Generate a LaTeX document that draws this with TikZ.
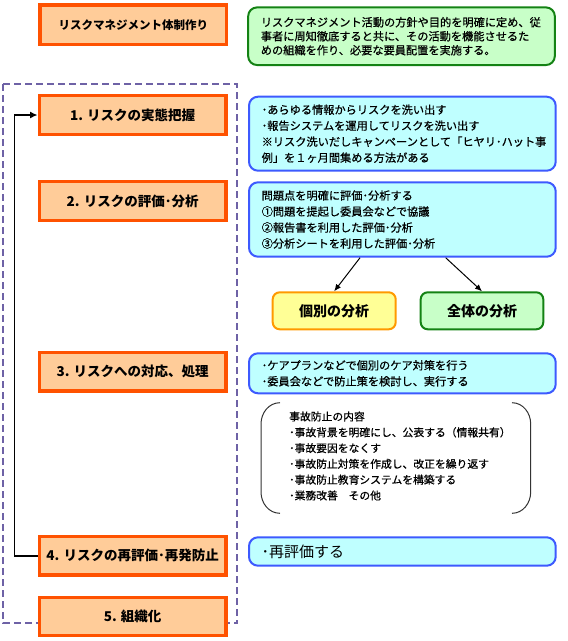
\documentclass[tikz,border=0pt]{standalone}
\usepackage{fontspec}
\setmainfont{Noto Sans CJK JP}
\newfontfamily\bodyfont{Noto Sans CJK JP}[FakeBold=0.6]
\usetikzlibrary{arrows.meta}
\definecolor{orangeB}{RGB}{255,82,0}
\definecolor{orangeF}{RGB}{255,204,153}
\definecolor{blueB}{RGB}{61,90,254}
\definecolor{blueF}{RGB}{191,255,255}
\definecolor{greenB}{RGB}{20,130,20}
\definecolor{greenF}{RGB}{200,255,200}
\definecolor{yellowB}{RGB}{255,153,0}
\definecolor{yellowF}{RGB}{255,255,150}
\definecolor{dashC}{RGB}{110,98,166}
\tikzset{
  obox/.style={draw=orangeB, fill=orangeF, line width=3.5pt, minimum width=186.7pt,
    minimum height=38.6pt, inner sep=0pt, font=\bfseries\fontsize{13.5pt}{16pt}\selectfont},
  rbox/.style={rounded corners=9pt, line width=2pt, inner xsep=12.7pt, inner ysep=0pt,
    text width=281.3pt, align=left, minimum width=306.7pt,
    font=\bodyfont\fontsize{11.2pt}{16pt}\selectfont},
  bbox/.style={rbox, draw=blueB, fill=blueF},
  gbox/.style={rbox, draw=greenB, fill=greenF},
  sbox/.style={rounded corners=7pt, line width=2pt, minimum width=123pt, minimum height=37pt,
    inner sep=0pt, font=\bfseries\fontsize{14pt}{16pt}\selectfont},
  dashbox/.style={draw=dashC, line width=2pt, dash pattern=on 7pt off 4pt},
  fb/.style={draw=black, line width=1.3pt, -{Latex[length=7.5pt,width=7pt]}},
  sarr/.style={draw=black, line width=1pt, -{Latex[length=7pt,width=6pt]}},
  brk/.style={draw=black!80, line width=1pt}
}
\begin{document}
\begin{tikzpicture}[x=1pt,y=-1pt]
\useasboundingbox (0,0) rectangle (568,641);
\draw[dashbox] (3.3,84) rectangle (237.3,623.3);

% left column
\node[obox, minimum height=39.3pt, font=\bfseries\fontsize{11.5pt}{14pt}\selectfont] (top) at (133.35,24.65) {リスクマネジメント体制作り};
\node[obox] (b1) at (132.65,115) {1. リスクの実態把握};
\node[obox, minimum height=39pt] (b2) at (132.65,201.2) {2. リスクの評価･分析};
\node[obox] (b3) at (132.65,371.65) {3. リスクへの対応、処理};
\node[obox, minimum height=38.3pt] (b4) at (132.65,555.85) {4. リスクの再評価･再発防止};
\node[obox, minimum height=38pt] (b5) at (132.65,616.7) {5. 組織化};

% right column
\node[gbox, minimum width=305pt, minimum height=57.7pt, font=\bodyfont\fontsize{11.2pt}{14pt}\selectfont] (g0) at (401.5,36.2)
  {リスクマネジメント活動の方針や目的を明確に定め、従\\事者に周知徹底すると共に、その活動を機能させるた\\めの組織を作り、必要な要員配置を実施する。};
\node[bbox, minimum height=74pt] (r1) at (402.35,133.7)
  {･あらゆる情報からリスクを洗い出す\\･報告システムを運用してリスクを洗い出す\\※リスク洗いだしキャンペーンとして「ヒヤリ･ハット事\\例」を１ヶ月間集める方法がある};
\node[bbox, minimum height=74.4pt] (r2) at (402.35,219.5)
  {問題点を明確に評価･分析する\\①問題を提起し委員会などで協議\\②報告書を利用した評価･分析\\③分析シートを利用した評価･分析};
\node[sbox, draw=yellowB, fill=yellowF] (yel) at (334.2,310.8) {個別の分析};
\node[sbox, draw=greenB, fill=greenF, minimum width=122.6pt] (all) at (482,310.8) {全体の分析};
\node[bbox, minimum height=40pt] (r3) at (402.35,373.3)
  {･ケアプランなどで個別のケア対策を行う\\･委員会などで防止策を検討し、実行する};
\node[anchor=west, align=left, inner sep=0pt, font=\bodyfont\fontsize{10.8pt}{15.8pt}\selectfont] (acc) at (289,456)
  {事故防止の内容\\･事故背景を明確にし、公表する（情報共有）\\･事故要因をなくす\\･事故防止対策を作成し、改正を繰り返す\\･事故防止教育システムを構築する\\･業務改善　その他};
\node[bbox, minimum height=28.4pt, font=\fontsize{15pt}{18pt}\selectfont] (r4) at (402.35,551.5) {･再評価する};

% bracket
\draw[brk] (280,402.7) to[out=180,in=90] (261,424) -- (261,492) to[out=-90,in=180] (280,513.3);
\draw[brk] (512,402.7) to[out=0,in=90] (530.7,424) -- (530.7,492) to[out=-90,in=0] (512,513.3);

% connectors
\draw[sarr] ([xshift=-42.3pt]r2.south) -- (yel.north);
\draw[sarr] ([xshift=43.3pt]r2.south) -- (all.north);
\draw[fb] (b4.west) -- ++(-23.3,0) |- (b1.west);
\end{tikzpicture}
\end{document}
